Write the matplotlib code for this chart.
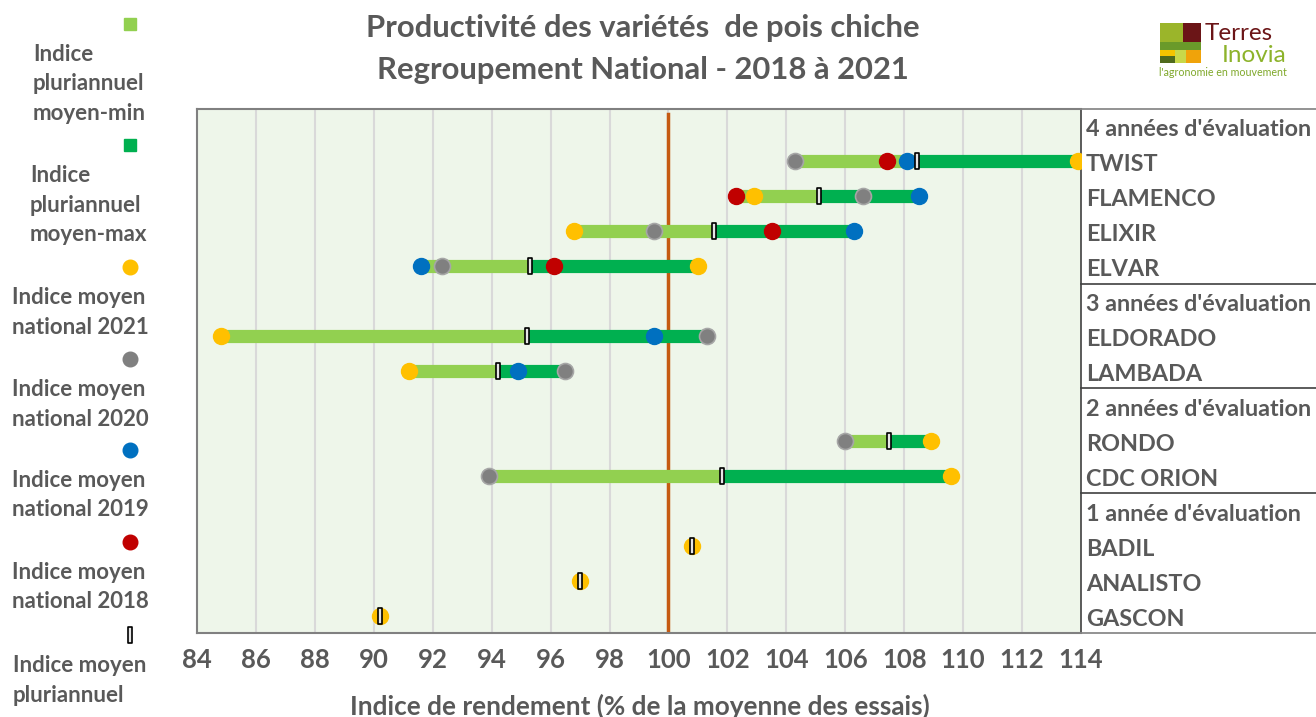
import numpy as np
import matplotlib.pyplot as plt
from matplotlib.path import Path
from matplotlib.patches import Rectangle
import matplotlib.transforms as mtransforms

plt.rcParams['font.family'] = ['Lato', 'DejaVu Sans']

# Données
varietes = ['TWIST', 'FLAMENCO', 'ELIXIR', 'ELVAR', 'ELDORADO', 'LAMBADA',
            'RONDO', 'CDC ORION', 'BADIL', 'ANALISTO', 'GASCON']
groupes = ["4 années d'évaluation", "3 années d'évaluation",
           "2 années d'évaluation", "1 année d'évaluation"]
n_par_groupe = [4, 2, 2, 3]

nan = np.nan
idx_2021 = [113.9, 102.9, 96.8, 101.0, 84.8, 91.2, 108.9, 109.6, 100.8, 97.0, 90.2]
idx_2020 = [104.3, 106.6, 99.5, 92.3, 101.3, 96.5, 106.0, 93.9, nan, nan, nan]
idx_2019 = [108.1, 108.5, 106.3, 91.6, 99.5, 94.9, nan, nan, nan, nan, nan]
idx_2018 = [107.4, 102.3, 103.5, 96.1, nan, nan, nan, nan, nan, nan, nan]
moyenne = [108.45, 105.1, 101.55, 95.3, 95.2, 94.2, 107.5, 101.8, 100.8, 97.0, 90.2]

x_ticks = list(range(84, 115, 2))

# Couleurs
c_min = '#92D050'
c_max = '#00B050'
c_2021 = '#FFC000'
c_2020 = '#808080'
c_2019 = '#0070C0'
c_2018 = '#C00000'
gris_txt = '#595959'

# Position des lignes (en-têtes de groupe + variétés)
rows_lab, rows_y, y_var = [], [], []
r = 0
k = 0
for g, n in zip(groupes, n_par_groupe):
    rows_lab.append(g); rows_y.append(r); r += 1
    for _ in range(n):
        rows_lab.append(varietes[k]); rows_y.append(r); y_var.append(r)
        r += 1; k += 1
y_var = np.array(y_var)
n_rows = r

annees = np.array([idx_2021, idx_2020, idx_2019, idx_2018], dtype=float)
vmin = np.nanmin(annees, axis=0)
vmax = np.nanmax(annees, axis=0)
moy = np.array(moyenne)

fig = plt.figure(figsize=(13.16, 7.17), dpi=100)
W, H = 1316, 717
ax = fig.add_axes([197 / W, 1 - 633 / H, (1081 - 197) / W, (633 - 109) / H])
ax.set_facecolor('#EEF6EA')
ax.set_xlim(84, 114)
ax.set_ylim(n_rows - 0.5, -0.5)

for xt in x_ticks[1:-1]:
    ax.axvline(xt, color='#D9D9D9', lw=1.5, zorder=1)
ax.axvline(100, color='#C55A11', lw=2.5, ymax=0.99, zorder=2)

# barres min -> moyenne -> max
ax.hlines(y_var, vmin, moy, color=c_min, lw=9.5, zorder=3)
ax.hlines(y_var, moy, vmax, color=c_max, lw=9.5, zorder=3)

ms = 11.5
ax.plot(idx_2018, y_var, 'o', color=c_2018, ms=ms, mec=c_2018, zorder=4)
ax.plot(idx_2019, y_var, 'o', color=c_2019, ms=ms, mec=c_2019, zorder=5)
ax.plot(idx_2020, y_var, 'o', color=c_2020, ms=ms, mec='#A6A6A6', mew=1.2, zorder=6)
ax.plot(idx_2021, y_var, 'o', color=c_2021, ms=ms, mec=c_2021, zorder=7)

rect = Path([(-0.28, -1), (0.28, -1), (0.28, 1), (-0.28, 1), (-0.28, -1)],
            [Path.MOVETO, Path.LINETO, Path.LINETO, Path.LINETO, Path.CLOSEPOLY])
ax.plot(moy, y_var, ls='none', marker=rect, ms=12, mfc='#E6E6E6', mec='black',
        mew=1.2, zorder=8)

ax.set_xticks(x_ticks)
ax.set_yticks([])
ax.tick_params(axis='x', length=0, pad=11, labelsize=18.5, labelcolor=gris_txt)
for lab in ax.get_xticklabels():
    lab.set_fontweight('bold')
for s in ['left', 'bottom', 'top']:
    ax.spines[s].set_color('#808080')
    ax.spines[s].set_linewidth(1.5)
ax.spines['right'].set_color('#404040')
ax.spines['right'].set_linewidth(1.2)

# tableau de droite
tr = mtransforms.blended_transform_factory(ax.transAxes, ax.transData)
x_end = (W - 197) / (1081 - 197)
sep = [rows_y[i] - 0.5 for i, l in enumerate(rows_lab) if l in groupes][1:]
for yl in [-0.5] + sep + [n_rows - 0.5]:
    col = '#808080' if yl in (-0.5, n_rows - 0.5) else '#404040'
    ax.plot([1, x_end], [yl, yl], color=col, lw=1.2, transform=tr, clip_on=False)
for lab, yy in zip(rows_lab, rows_y):
    ax.text(1 + 5 / 884, yy + 0.1, lab, transform=tr, ha='left', va='center',
            fontsize=16.8, fontweight='bold', color=gris_txt, clip_on=False)

# titre et axe
fig.text(643 / W, 1 - 28 / H, 'Productivité des variétés  de pois chiche', ha='center',
         va='center', fontsize=22.3, fontweight='bold', color=gris_txt)
fig.text(643 / W, 1 - 70 / H, 'Regroupement National - 2018 à 2021', ha='center',
         va='center', fontsize=22.3, fontweight='bold', color=gris_txt)
fig.text(640 / W, 1 - 706 / H, 'Indice de rendement (% de la moyenne des essais)',
         ha='center', va='center', fontsize=18.8, fontweight='bold', color=gris_txt)

# légende manuelle à gauche
ov = fig.add_axes([0, 0, 1, 1], zorder=10)
ov.set_xlim(0, W)
ov.set_ylim(H, 0)
ov.axis('off')
ov.patch.set_alpha(0)

leg_y = [24, 145, 267, 359, 450, 542, 635]
leg_txt = ['Indice\npluriannuel\nmoyen-min', 'Indice\npluriannuel\nmoyen-max',
           'Indice moyen\nnational 2021', 'Indice moyen\nnational 2020',
           'Indice moyen\nnational 2019', 'Indice moyen\nnational 2018',
           'Indice moyen\npluriannuel']
leg_x = [33, 30, 12, 12, 12, 12, 13]
leg_mk = ['s', 's', 'o', 'o', 'o', 'o', rect]
leg_col = [c_min, c_max, c_2021, c_2020, c_2019, c_2018, '#E6E6E6']
for yy, t, xx, mk, col in zip(leg_y, leg_txt, leg_x, leg_mk, leg_col):
    if mk == 's':
        ov.plot(130, yy, marker='s', ms=9, color=col, ls='none')
    elif mk == 'o':
        ov.plot(130, yy, marker='o', ms=10.5, color=col, ls='none')
    else:
        ov.plot(130, yy, marker=mk, ms=11, mfc=col, mec='black', mew=1.2, ls='none')
    for i, ligne in enumerate(t.split('\n')):
        ov.text(xx, yy + 29 + i * 29.5 + 8, ligne, ha='left', va='baseline',
                fontsize=16, fontweight='bold', color=gris_txt)

# logo Terres Inovia
logo = [(1160, 23, 23, 19, '#9BB52A'), (1183, 23, 18, 19, '#6B1517'),
        (1160, 42, 41, 8, '#6A9A2A'), (1160, 50, 15, 6, '#F4C400'),
        (1160, 56, 15, 7, '#4F6A1D'), (1175, 50, 11, 13, '#C8D84A'),
        (1186, 50, 15, 13, '#F0A30A')]
for x0, y0, w, h, col in logo:
    ov.add_patch(Rectangle((x0, y0), w, h, color=col, lw=0))
ov.text(1205, 33, 'Terres', fontsize=17.5, color='#6B1517', va='center', ha='left')
ov.text(1222, 55, 'Inovia', fontsize=17.5, color='#8DB32B', va='center', ha='left')
ov.text(1159, 73, "l'agronomie en mouvement", fontsize=7.7, color='#7FA82A',
        va='center', ha='left')

fig.savefig('out.png', dpi=100)
